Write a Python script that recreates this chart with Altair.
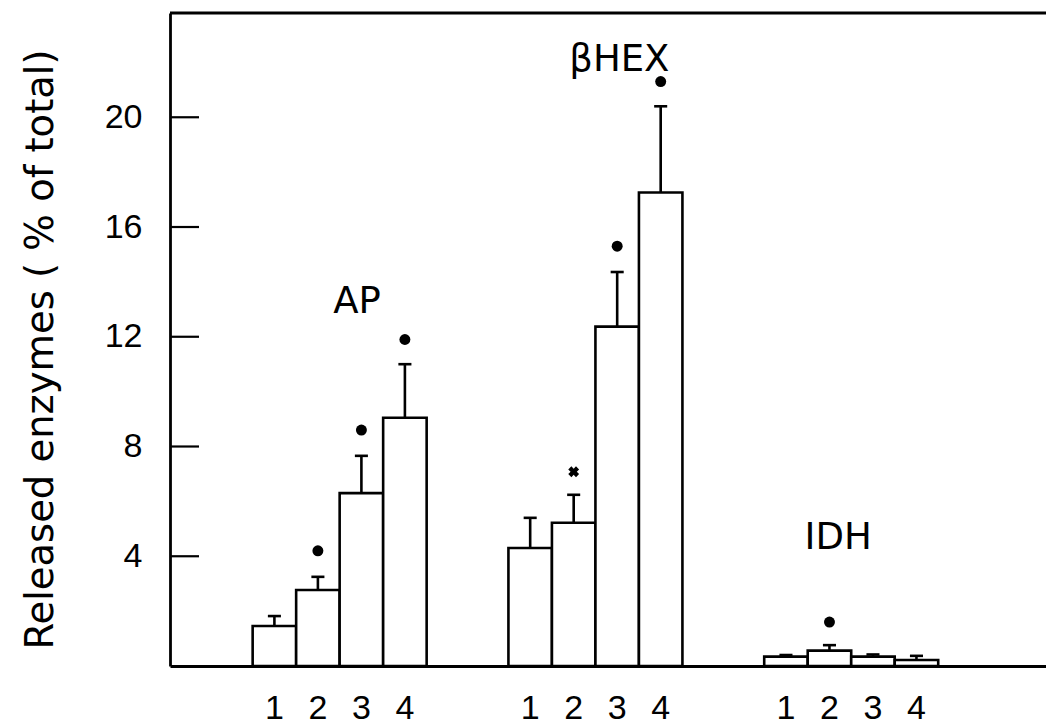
import altair as alt
import pandas as pd

# ---- data ----
groups = ["AP", "βHEX", "IDH"]
conditions = ["1", "2", "3", "4"]

ap_mean = [1.46, 2.77, 6.30, 9.05]
hex_mean = [4.30, 5.22, 12.37, 17.26]
idh_mean = [0.34, 0.56, 0.34, 0.22]

ap_upper = [1.82, 3.25, 7.66, 11.00]
hex_upper = [5.40, 6.24, 14.36, 20.40]
idh_upper = [0.40, 0.76, 0.42, 0.37]

# significance markers: (value, kind) or None
ap_marks = [None, (4.2, "dot"), (8.6, "dot"), (11.9, "dot")]
hex_marks = [None, (7.08, "cross"), (15.3, "dot"), (21.3, "dot")]
idh_marks = [None, (1.6, "dot"), None, None]

# group label heights (in % units)
label_y = [13.25, 22.1, 4.67]
label_dx = [0.4, 0.55, -0.3]

y_ticks = [4, 8, 12, 16, 20]

# ---- layout (bar width = 1 x-unit) ----
W, H = 876, 653
X0, GAP = 1.9, 5.88
XMAX = W / 43.5
YMAX = 23.8

means = [ap_mean, hex_mean, idh_mean]
uppers = [ap_upper, hex_upper, idh_upper]
marks = [ap_marks, hex_marks, idh_marks]

rows, mrows, lrows = [], [], []
for gi, g in enumerate(groups):
    for i, c in enumerate(conditions):
        left = X0 + gi * GAP + i
        rows.append(dict(group=g, cond=c, left=left, right=left + 1,
                         center=left + 0.5, capl=left + 0.35, capr=left + 0.65,
                         mean=means[gi][i], upper=uppers[gi][i]))
        m = marks[gi][i]
        if m is not None:
            mrows.append(dict(center=left + 0.5, val=m[0], kind=m[1]))
    lrows.append(dict(label=g, x=X0 + gi * GAP + 2 + label_dx[gi], y=label_y[gi]))

df = pd.DataFrame(rows)
mdf = pd.DataFrame(mrows)
ldf = pd.DataFrame(lrows)
tdf = pd.DataFrame(dict(t=y_ticks))

xs = alt.Scale(domain=[0, XMAX], nice=False, zero=False)
ys = alt.Scale(domain=[0, YMAX], nice=False, zero=True)

base = alt.Chart(df)

bars = base.mark_bar(fill="white", stroke="black", strokeWidth=2.6).encode(
    x=alt.X("left:Q", scale=xs, axis=alt.Axis(labels=False, ticks=False, grid=False, title=None,
                                               domainColor="black", domainWidth=2.8)),
    x2="right:Q",
    y=alt.Y("mean:Q", scale=ys, stack=None,
            axis=alt.Axis(values=y_ticks, ticks=False, tickSize=0, grid=False,
                          labelPadding=28, labelFont="Liberation Sans", labelFontSize=34,
                          labelColor="black", domainColor="black", domainWidth=2.8,
                          title="Released enzymes ( % of total)", titleFont="DejaVu Sans",
                          titleFontSize=38.5, titleFontWeight="normal", titleColor="black",
                          titleAngle=270, titleX=-130, titleY=336,
                          titleAlign="center", titleBaseline="middle")),
    y2=alt.datum(0),
)

stems = base.mark_rule(color="black", strokeWidth=2.6).encode(
    x=alt.X("center:Q", scale=xs), y=alt.Y("mean:Q", scale=ys), y2="upper:Q")

caps = base.mark_rule(color="black", strokeWidth=2.6).encode(
    x=alt.X("capl:Q", scale=xs), x2="capr:Q", y=alt.Y("upper:Q", scale=ys))

dots = alt.Chart(mdf).transform_filter("datum.kind == 'dot'").mark_point(
    shape="circle", filled=True, color="black", size=120, opacity=1).encode(
    x=alt.X("center:Q", scale=xs), y=alt.Y("val:Q", scale=ys))

crosses = alt.Chart(mdf).transform_filter("datum.kind == 'cross'").mark_point(
    shape="cross", angle=45, filled=True, color="black", size=120, opacity=1).encode(
    x=alt.X("center:Q", scale=xs), y=alt.Y("val:Q", scale=ys))

glabels = alt.Chart(ldf).mark_text(font="DejaVu Sans", fontSize=37, color="black").encode(
    x=alt.X("x:Q", scale=xs), y=alt.Y("y:Q", scale=ys), text="label:N")

xlabels = base.mark_text(font="Liberation Sans", fontSize=34, color="black").encode(
    x=alt.X("center:Q", scale=xs), y=alt.value(H + 43), text="cond:N")

ticks = alt.Chart(tdf).mark_rule(color="black", strokeWidth=2.2).encode(
    y=alt.Y("t:Q", scale=ys), x=alt.value(0), x2=alt.value(29))

top = alt.Chart(tdf.head(1)).mark_rule(color="black", strokeWidth=2.8).encode(
    y=alt.value(0), x=alt.value(0), x2=alt.value(W))

chart = alt.layer(bars, stems, caps, dots, crosses, glabels, xlabels, ticks, top).properties(
    width=W, height=H,
    autosize=alt.AutoSizeParams(type="none"),
    padding={"left": 170, "top": 13, "right": 0, "bottom": 60},
    background="white",
).configure_view(stroke=None)

chart.save("out.html", embed_options={"renderer": "svg", "actions": False})
